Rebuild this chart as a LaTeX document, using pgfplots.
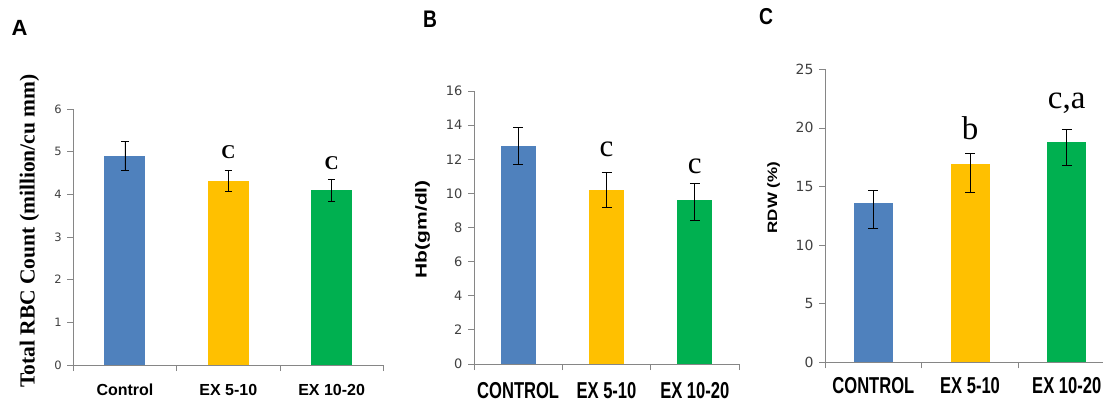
\documentclass[border=0pt]{standalone}
\usepackage{pgfplots}
\pgfplotsset{compat=1.18}
\usepackage{fontspec}
\setmainfont{Liberation Sans}
\newfontfamily\serif{Liberation Serif}
\newfontfamily\tickfont{DejaVu Sans}
\definecolor{cblue}{HTML}{4F81BD}
\definecolor{cyel}{HTML}{FFC000}
\definecolor{cgreen}{HTML}{00B050}
\definecolor{axgray}{HTML}{868686}
\definecolor{ticktxt}{HTML}{404040}
\newcommand{\fs}[1]{\fontsize{#1bp}{#1bp}\selectfont}
\pgfplotsset{
  panel/.style={
    scale only axis, anchor=south west,
    axis x line*=bottom, axis y line*=left,
    axis line style={axgray, line width=0.8bp, -},
    tick align=outside, tick pos=left,
    xmin=-0.5, xmax=2.5,
    xtick={0,1,2}, minor xtick={-0.5,0.5,1.5,2.5},
    major x tick style={draw=none},
    minor x tick style={axgray, line width=0.8bp},
    minor tick length=6bp,
    y tick style={axgray, line width=0.8bp},
    major tick length=6bp,
    /pgf/number format/assume math mode=true,
    yticklabel style={color=ticktxt, xshift=-2bp},
    xticklabel style={anchor=base, text=black},
    ybar, bar shift=0pt,
    every axis plot/.append style={draw=none},
    clip=false,
  },
  eb/.style={error bars/.cd, y dir=both, y explicit,
    error bar style={black, line width=0.8bp},
    error mark options={black, line width=0.8bp, rotate=90, mark size=#1}},
}
\begin{document}
\begin{tikzpicture}
\useasboundingbox (0,0) rectangle (1103bp,-402bp);
% ---------------- Panel A ----------------
\begin{axis}[panel, at={(73.3bp,-365bp)}, width=310bp, height=256bp,
  ymin=0, ymax=6, ytick={0,1,...,6}, bar width=41bp,
  yticklabel style={font=\tickfont\fs{11.5}},
  xticklabels={Control, EX 5-10, EX 10-20},
  xticklabel style={font=\bfseries\fs{16}, yshift=-24bp}]
\addplot[fill=cblue, eb=3.8bp] coordinates {(0,4.90) += (0,0.33) -= (0,0.33)};
\addplot[fill=cyel, eb=3.8bp] coordinates {(1,4.31) += (0,0.24) -= (0,0.23)};
\addplot[fill=cgreen, eb=3.8bp] coordinates {(2,4.10) += (0,0.26) -= (0,0.27)};
\node[font=\serif\bfseries\fs{19.5}, anchor=base] at (axis cs:1,4.84) {C};
\node[font=\serif\bfseries\fs{19.5}, anchor=base] at (axis cs:2,4.59) {C};
\end{axis}
% ---------------- Panel B ----------------
\begin{axis}[panel, at={(474bp,-364bp)}, width=265bp, height=273bp,
  ymin=0, ymax=16, ytick={0,2,...,16}, bar width=34.7bp,
  yticklabel style={font=\tickfont\fs{13}},
  xticklabels={\scalebox{0.72}[1]{CONTROL}, \scalebox{0.72}[1]{EX 5-10}, \scalebox{0.72}[1]{EX 10-20}},
  xticklabel style={font=\bfseries\fs{23}, yshift=-28bp}]
\addplot[fill=cblue, eb=5bp] coordinates {(0,12.80) += (0,1.05) -= (0,1.10)};
\addplot[fill=cyel, eb=5bp] coordinates {(1,10.20) += (0,1.04) -= (0,1.00)};
\addplot[fill=cgreen, eb=5bp] coordinates {(2,9.60) += (0,0.98) -= (0,1.17)};
\node[font=\serif\fs{31}, anchor=base] at (axis cs:1,12.15) {c};
\node[font=\serif\fs{31}, anchor=base] at (axis cs:2,11.18) {c};
\end{axis}
% ---------------- Panel C ----------------
\begin{axis}[panel, at={(825bp,-362.3bp)}, width=278bp, height=293bp, xmax=2.375,
  ymin=0, ymax=25, ytick={0,5,...,25}, bar width=39bp,
  yticklabel style={font=\tickfont\fs{14}},
  xticklabels={\scalebox{0.72}[1]{CONTROL}, \scalebox{0.72}[1]{EX 5-10}, \scalebox{0.72}[1]{EX 10-20}},
  xticklabel style={font=\bfseries\fs{23}, yshift=-25bp}]
\addplot[fill=cblue, eb=5bp] coordinates {(0,13.62) += (0,1.02) -= (0,2.22)};
\addplot[fill=cyel, eb=5bp] coordinates {(1,16.95) += (0,0.88) -= (0,2.45)};
\addplot[fill=cgreen, eb=5bp] coordinates {(2,18.82) += (0,1.08) -= (0,1.99)};
\node[font=\serif\fs{33}, anchor=base] at (axis cs:1,18.97) {b};
\node[font=\serif\fs{33}, anchor=base] at (axis cs:2,21.67) {c,a};
\end{axis}
% ---------------- Labels ----------------
\node[font=\bfseries\fs{22}] at (19.5bp,-28bp) {A};
\node[font=\bfseries\fs{24}] at (430bp,-19.5bp) {\scalebox{0.8}[1]{B}};
\node[font=\bfseries\fs{23}] at (766bp,-16.5bp) {\scalebox{0.84}[1]{C}};
\node[rotate=90, font=\serif\bfseries\fs{21.5}] at (29.5bp,-231bp) {Total RBC Count (million/cu mm)};
\node[rotate=90, font=\bfseries\fs{21}] at (422.5bp,-229.2bp) {\scalebox{1}[0.75]{Hb(gm/dl)}};
\node[rotate=90, font=\bfseries\fs{17}] at (773.7bp,-197.5bp) {\scalebox{1}[0.8]{RDW (\%)}};
\end{tikzpicture}
\end{document}
